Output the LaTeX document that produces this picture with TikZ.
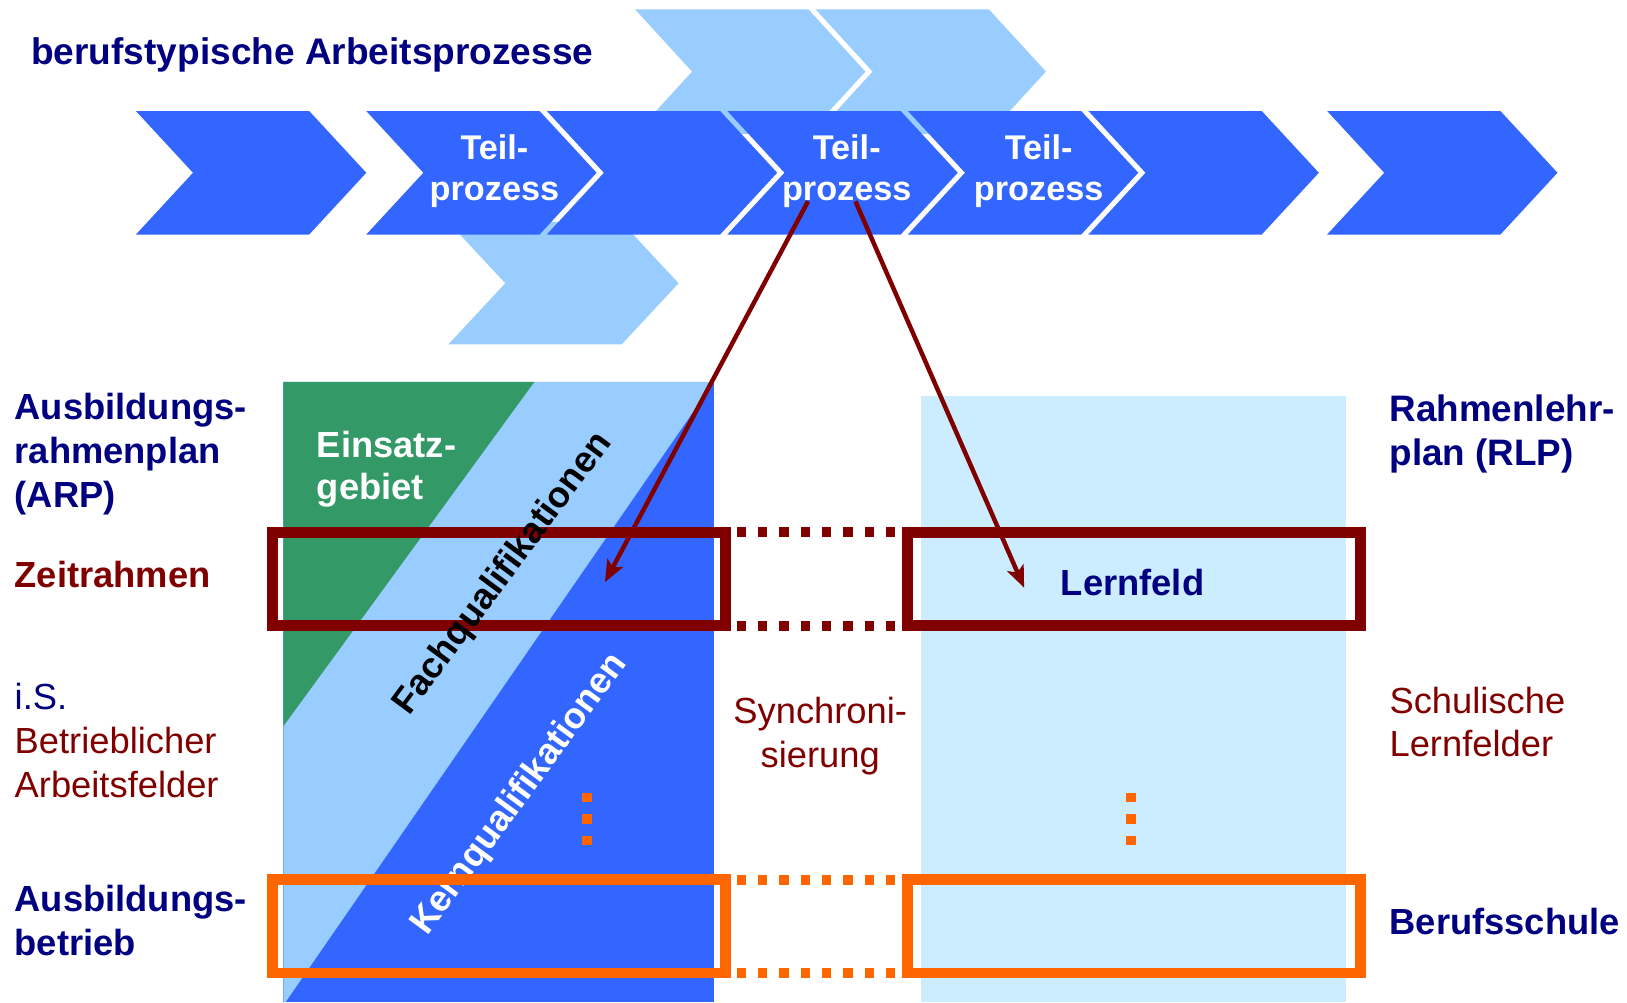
\documentclass[tikz,border=0pt]{standalone}
\usepackage{fontspec}
\setmainfont{Liberation Sans}
\usetikzlibrary{arrows.meta}
\definecolor{mblue}{HTML}{3366FF}
\definecolor{lblue}{HTML}{99CCFF}
\definecolor{vlblue}{HTML}{CCECFF}
\definecolor{dgreen}{HTML}{339966}
\definecolor{dred}{HTML}{800000}
\definecolor{orng}{HTML}{FF6600}
\definecolor{navyc}{HTML}{000080}
\newcommand{\cstack}[1]{\vtop{\halign{\hfil##\hfil\cr#1\crcr}}}
\newcommand{\lstack}[1]{\vtop{\halign{##\hfil\cr#1\crcr}}}
\tikzset{
  chev/.style={fill=mblue},
  lchev/.style={fill=lblue},
  tpl/.style={inner sep=0pt, anchor=base, text=white, font=\fontsize{33}{40.2}\selectfont\bfseries},
  lab/.style={inner sep=0pt, anchor=base west, font=\fontsize{35}{42.6}\selectfont},
  blab/.style={inner sep=0pt, anchor=base west, font=\fontsize{35}{42.6}\selectfont\bfseries},
  diag/.style={inner sep=0pt, font=\fontsize{35}{40}\selectfont\bfseries},
  rbox/.style={draw=dred, line width=10.5pt, minimum width=436.5pt, minimum height=90pt, inner sep=0pt, outer sep=0pt},
  obox/.style={rbox, draw=orng, minimum height=89.7pt},
  rdash/.style={draw=dred, line width=9.5pt, dash pattern=on 9pt off 11.57pt, shorten <=11pt, shorten >=11.5pt},
  odash/.style={rdash, draw=orng},
  odots/.style={draw=orng, line width=10pt, dash pattern=on 9pt off 11.45pt},
  arr/.style={draw=dred, line width=4.3pt, -{Stealth[length=21pt,width=17pt,inset=5pt]}}
}
\begin{document}
\begin{tikzpicture}[x=1pt,y=-1pt]
\useasboundingbox (0,0) rectangle (1568,966);
% light chevrons behind the main row
\foreach \L in {612,786}
  \fill[lchev] (\L,9) -- ({\L+167},9) -- ({\L+222},69) -- ({\L+167},129) -- (\L,129) -- ({\L+55},69) -- cycle;
\fill[lchev] (432,214) -- (599,214) -- (654,273) -- (599,332) -- (432,332) -- (487,273) -- cycle;
% main chevron row
\foreach \L in {131,353,527,701,875,1049,1279}
  \fill[chev] (\L,107) -- ({\L+167},107) -- ({\L+222},166.5) -- ({\L+167},226) -- (\L,226) -- ({\L+55},166.5) -- cycle;
\node[tpl] (tp1) at (476.5,153.5) {\cstack{Teil-\cr prozess}};
\node[tpl] (tp2) at (816,153.5) {\cstack{Teil-\cr prozess}};
\node[tpl] (tp3) at (1001,153.5) {\cstack{Teil-\cr prozess}};
\node[blab, text=navyc, font=\fontsize{35.7}{40}\selectfont\bfseries] (hdr) at (30,62.6) {berufstypische Arbeitsprozesse};
% left column
\fill[mblue] (273,368) rectangle (688,966);
\fill[lblue] (273,368) -- (688,368) -- (275,966) -- (273,966) -- cycle;
\fill[dgreen] (273,368) -- (515,368) -- (273,700) -- cycle;
% right column
\fill[vlblue] (888,381.5) rectangle (1297,966);
\node[blab, text=white, font=\fontsize{35}{40.5}\selectfont\bfseries] (einsatz) at (305.2,440.8) {\lstack{Einsatz-\cr gebiet}};
\node[diag, text=white, rotate=53.7] (kq) at (501,766) {Kernqualifikationen};
% boxes
\node[rbox] (rl) at (480.75,558) {};
\node[rbox] (rr) at (1092.75,558) {};
\node[obox] (ol) at (480.75,892.85) {};
\node[obox] (orr) at (1092.75,892.85) {};
\draw[rdash] (rl.north east) -- (rr.north west);
\draw[rdash] (rl.south east) -- (rr.south west);
\draw[odash] (ol.north east) -- (orr.north west);
\draw[odash] (ol.south east) -- (orr.south west);
\coordinate (dl1) at (565.7,764.3);
\coordinate (dl2) at (565.7,814.2);
\coordinate (dr1) at (1090,764.3);
\coordinate (dr2) at (1090,814.2);
\draw[odots] (dl1) -- (dl2);
\draw[odots] (dr1) -- (dr2);
\node[diag, text=black, rotate=53.5] (fq) at (485,553) {Fachqualifikationen};
% texts
\node[blab, anchor=base, text=navyc] (lf) at (1091.5,574) {Lernfeld};
\node[lab, anchor=base, text=dred, font=\fontsize{35}{42.7}\selectfont] (sync) at (790.5,697.1) {\cstack{Synchroni-\cr sierung}};
\node[blab, text=navyc] (arp) at (14,404.1) {\lstack{Ausbildungs-\cr rahmenplan\cr (ARP)}};
\node[blab, text=dred] (zeit) at (14,566) {Zeitrahmen};
\node[lab, text=dred, font=\fontsize{35}{42.75}\selectfont] (isb) at (14,683.3) {\lstack{\textcolor{navyc}{i.S.}\cr Betrieblicher\cr Arbeitsfelder}};
\node[blab, text=navyc, font=\fontsize{35}{41.8}\selectfont\bfseries] (ab) at (14,878.6) {\lstack{Ausbildungs-\cr betrieb}};
\node[blab, text=navyc, font=\fontsize{35.5}{41.8}\selectfont\bfseries] (rlp) at (1339,406.4) {\lstack{Rahmenlehr-\cr plan (RLP)}};
\node[lab, text=dred, font=\fontsize{35}{41.7}\selectfont] (sl) at (1339,687.5) {\lstack{Schulische\cr Lernfelder}};
\node[blab, text=navyc] (bs) at (1339,900.4) {Berufsschule};
% arrows
\coordinate (a1s) at (778.7,194);
\coordinate (a1e) at (583,561);
\coordinate (a2s) at (824.4,194);
\coordinate (a2e) at (987,566.4);
\draw[arr] (a1s) -- (a1e);
\draw[arr] (a2s) -- (a2e);
\end{tikzpicture}
\end{document}
